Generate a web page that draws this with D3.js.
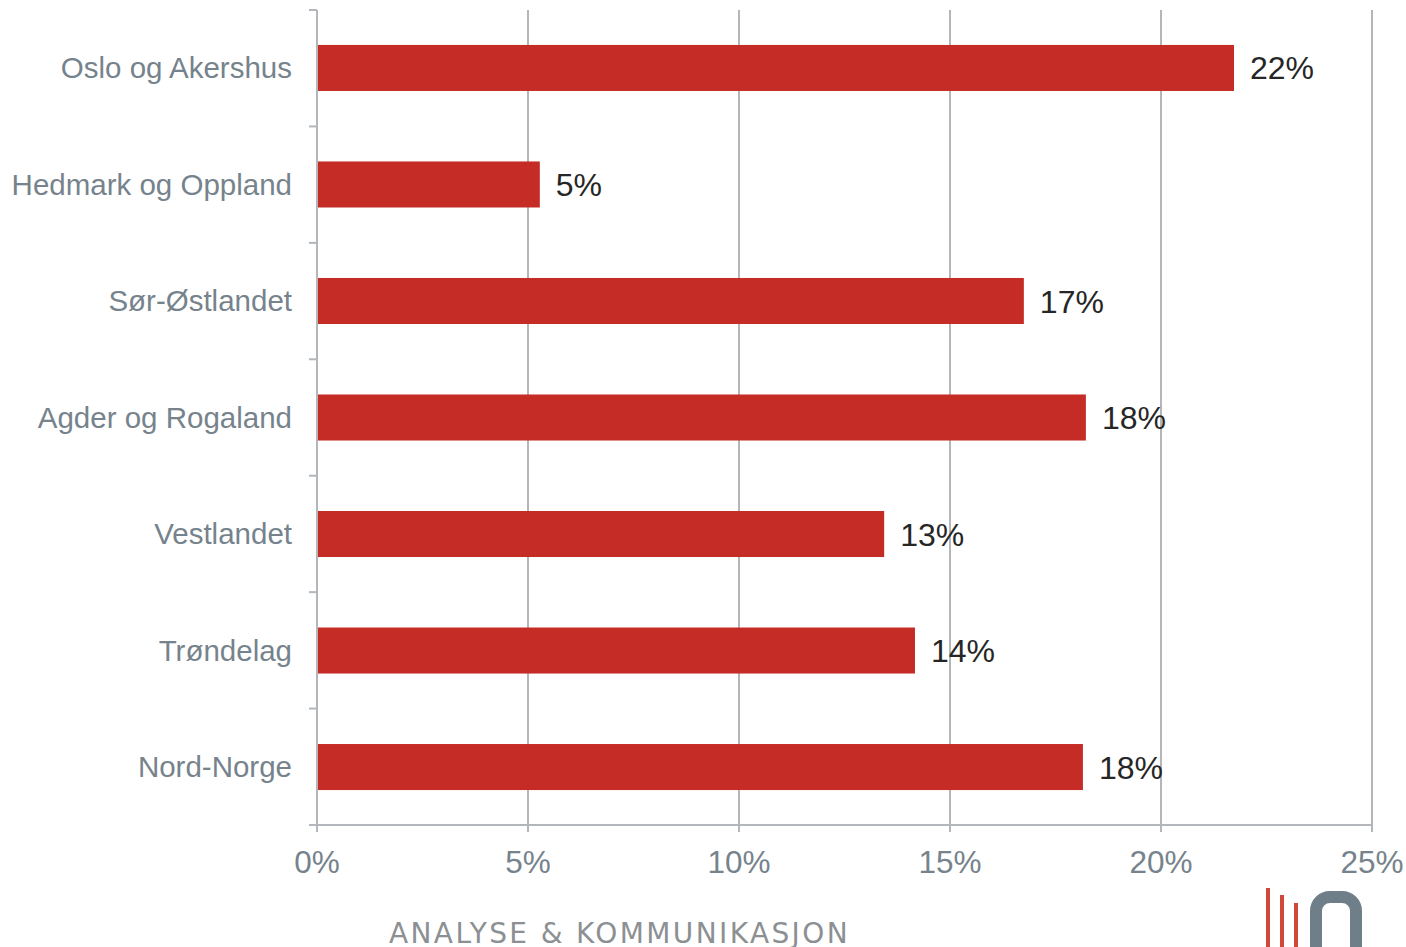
<!DOCTYPE html>
<html><head><meta charset="utf-8">
<script src="https://cdn.jsdelivr.net/npm/d3@7"></script>
<style>body{margin:0;background:#fff}svg{display:block}</style>
</head><body>
<svg id="c" width="1406" height="947"></svg>
<script>
const categories = ["Oslo og Akershus","Hedmark og Oppland","Sør-Østlandet","Agder og Rogaland","Vestlandet","Trøndelag","Nord-Norge"];
const values = [21.73, 5.28, 16.75, 18.22, 13.44, 14.17, 18.15];
const valueLabels = ["22%","5%","17%","18%","13%","14%","18%"];
const xTicks = [0,5,10,15,20,25];

(function(){
const svg = d3.select("#c");
const pL = 317, pR = 1372, pT = 10, pB = 825;
const x = d3.scaleLinear().domain([0,25]).range([pL,pR]);
const y = d3.scaleBand().domain(categories).range([pT,pB]).paddingInner(0.605).paddingOuter(0.3);
const font = "'Liberation Sans', Arial, sans-serif";
const axisCol = "#b3b7bb";

svg.append("g").selectAll("line").data(xTicks.slice(1)).join("line")
  .attr("x1", d=>x(d)).attr("x2", d=>x(d)).attr("y1", pT).attr("y2", pB)
  .attr("stroke", axisCol).attr("stroke-width", 2);

svg.append("g").selectAll("rect").data(categories).join("rect")
  .attr("x", pL).attr("y", d=>y(d))
  .attr("width", (d,i)=>x(values[i])-pL).attr("height", y.bandwidth())
  .attr("fill", "#c52c25");

svg.append("g").selectAll("text").data(categories).join("text")
  .attr("x", (d,i)=>x(values[i])+16).attr("y", d=>y(d)+y.bandwidth()/2)
  .attr("dy", "0.36em").attr("font-family", font).attr("font-size", 32)
  .attr("fill", "#262626").text((d,i)=>valueLabels[i]);

const step = (pB-pT)/categories.length;
const yb = svg.append("g");
yb.append("line").attr("x1",pL).attr("x2",pL).attr("y1",pT).attr("y2",pB+7)
  .attr("stroke",axisCol).attr("stroke-width",2);
yb.selectAll("line.t").data(d3.range(categories.length+1)).join("line").attr("class","t")
  .attr("x1",pL-8).attr("x2",pL).attr("y1",i=>pT+i*step).attr("y2",i=>pT+i*step)
  .attr("stroke",axisCol).attr("stroke-width",2);
yb.selectAll("text").data(categories).join("text")
  .attr("x", 292).attr("y", d=>y(d)+y.bandwidth()/2).attr("dy","0.34em")
  .attr("text-anchor","end").attr("font-family",font).attr("font-size",29.5)
  .attr("fill","#76838c").text(d=>d);

const xa = svg.append("g");
xa.append("line").attr("x1",pL-8).attr("x2",pR).attr("y1",pB).attr("y2",pB)
  .attr("stroke",axisCol).attr("stroke-width",2);
xa.selectAll("line.t").data(xTicks).join("line").attr("class","t")
  .attr("x1",d=>x(d)).attr("x2",d=>x(d)).attr("y1",pB).attr("y2",pB+7)
  .attr("stroke",axisCol).attr("stroke-width",2);
xa.selectAll("text").data(xTicks).join("text")
  .attr("x",d=>x(d)).attr("y",862).attr("dy","0.36em").attr("text-anchor","middle")
  .attr("font-family",font).attr("font-size",31.5).attr("fill","#76838c").text(d=>d+"%");

svg.append("text").attr("x",389).attr("y",943).attr("font-family","'DejaVu Sans', sans-serif")
  .attr("font-size",28).attr("letter-spacing",2.4).attr("fill","#8c9093")
  .attr("textLength",461).attr("lengthAdjust","spacing")
  .text("ANALYSE & KOMMUNIKASJON");

const lg = svg.append("g");
[[1268,888],[1282,895],[1296,903]].forEach(([lx,ly])=>{
  lg.append("line").attr("x1",lx).attr("x2",lx).attr("y1",ly).attr("y2",947)
    .attr("stroke","#d0483a").attr("stroke-width",4);
});
lg.append("rect").attr("x",1316).attr("y",897).attr("width",40).attr("height",70)
  .attr("rx",14).attr("fill","none").attr("stroke","#6f7f89").attr("stroke-width",12);
})();
</script>
</body></html>
